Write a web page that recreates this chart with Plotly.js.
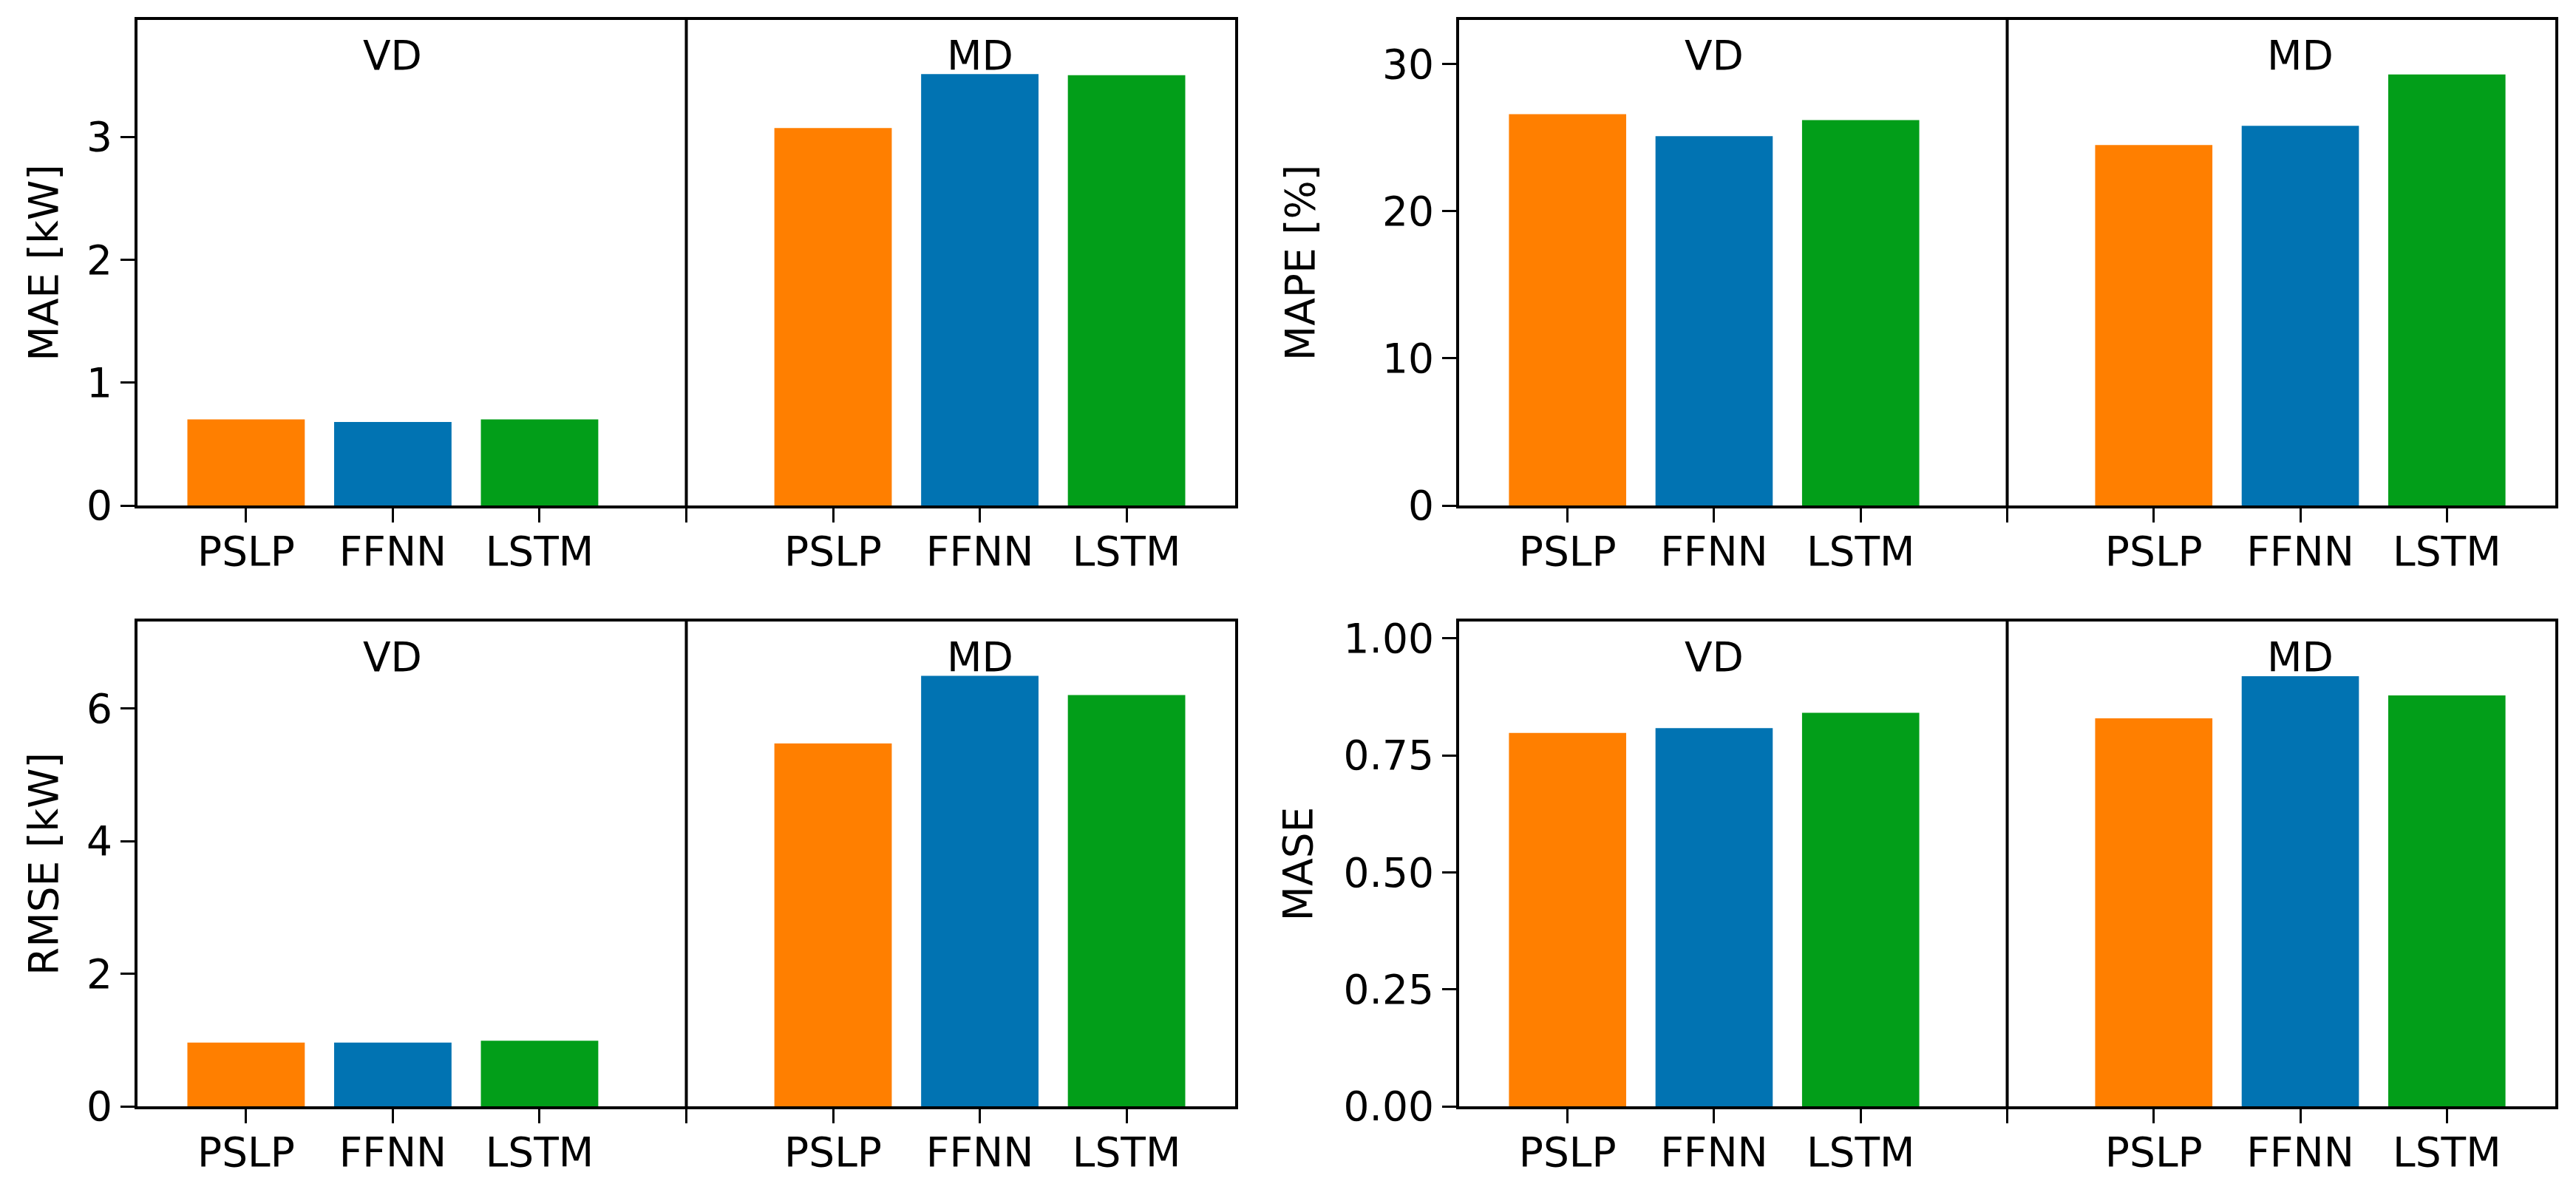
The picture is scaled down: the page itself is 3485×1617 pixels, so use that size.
<!DOCTYPE html>
<html>
<head>
<meta charset="utf-8">
<script src="https://cdn.plot.ly/plotly-3.0.1.min.js"></script>
<style>html,body{margin:0;padding:0;background:#fff;}#chart{width:3485px;height:1617px;}</style>
</head>
<body>
<div id="chart"></div>
<script>
// ---- data ----
const models = ['PSLP', 'FFNN', 'LSTM'];
const groups = ['VD', 'MD'];
const maeVD = [0.70, 0.68, 0.70];
const maeMD = [3.07, 3.51, 3.50];
const mapeVD = [26.6, 25.1, 26.2];
const mapeMD = [24.5, 25.8, 29.3];
const rmseVD = [0.96, 0.96, 0.99];
const rmseMD = [5.47, 6.49, 6.20];
const maseVD = [0.798, 0.808, 0.841];
const maseMD = [0.829, 0.919, 0.878];
const metricTitles = ['MAE [kW]', 'MAPE [%]', 'RMSE [kW]', 'MASE'];

// ---- styling ----
const modelColors = ['#ff7f00', '#0173b2', '#029e19'];
const FONT = 'DejaVu Sans, sans-serif';
const FS = 55;
const W = 3485, H = 1617;
const colDom = [[186 / W, 1671 / W], [1974 / W, 3457 / W]];
const rowDom = [[1 - 684 / H, 1 - 27 / H], [1 - 1497 / H, 1 - 841 / H]];

const panels = [
  { vd: maeVD, md: maeMD, title: metricTitles[0], range: [0, 3.95], dtick: 1, fmt: '', standoff: 22, col: 0, row: 0 },
  { vd: mapeVD, md: mapeMD, title: metricTitles[1], range: [0, 33.0], dtick: 10, fmt: '', standoff: 75, col: 1, row: 0 },
  { vd: rmseVD, md: rmseMD, title: metricTitles[2], range: [0, 7.31], dtick: 2, fmt: '', standoff: 22, col: 0, row: 1 },
  { vd: maseVD, md: maseMD, title: metricTitles[3], range: [0, 1.036], dtick: 0.25, fmt: '.2f', standoff: 25, col: 1, row: 1 }
];

const data = [];
const layout = {
  width: W, height: H,
  margin: { l: 0, r: 0, t: 0, b: 0 },
  paper_bgcolor: '#fff', plot_bgcolor: '#fff',
  showlegend: false,
  font: { family: FONT, size: FS, color: '#000' },
  shapes: [], annotations: []
};

const tickVals = [];
const tickText = [];
groups.forEach((g, gi) => {
  models.forEach((m, mi) => { tickVals.push(gi * 4 + mi); tickText.push(m); });
});
tickVals.push(3); tickText.push('');

panels.forEach((p, i) => {
  const n = i + 1;
  const xa = n === 1 ? 'x' : 'x' + n;
  const ya = n === 1 ? 'y' : 'y' + n;
  const xs = [], ys = [], cs = [];
  [p.vd, p.md].forEach((vals, gi) => {
    vals.forEach((v, mi) => { xs.push(gi * 4 + mi); ys.push(v); cs.push(modelColors[mi]); });
  });
  data.push({
    type: 'bar', x: xs, y: ys, xaxis: xa, yaxis: ya,
    width: 0.8, marker: { color: cs, line: { width: 0 } },
    hoverinfo: 'x+y'
  });
  const xKey = n === 1 ? 'xaxis' : 'xaxis' + n;
  const yKey = n === 1 ? 'yaxis' : 'yaxis' + n;
  layout[xKey] = {
    domain: colDom[p.col], anchor: ya, type: 'linear',
    range: [-0.74, 6.74], tickmode: 'array', tickvals: tickVals, ticktext: tickText,
    ticks: 'outside', ticklen: 19, tickwidth: 3, tickcolor: '#000',
    ticklabelstandoff: -8,
    showline: true, linecolor: '#000', linewidth: 4, mirror: true,
    showgrid: false, zeroline: false, fixedrange: true,
    tickfont: { family: FONT, size: FS, color: '#000' }
  };
  layout[yKey] = {
    domain: rowDom[p.row], anchor: xa,
    range: p.range, dtick: p.dtick, tick0: 0, tickformat: p.fmt,
    ticks: 'outside', ticklen: 19, tickwidth: 3, tickcolor: '#000',
    showline: true, linecolor: '#000', linewidth: 4, mirror: true,
    showgrid: false, zeroline: false, fixedrange: true,
    tickfont: { family: FONT, size: FS, color: '#000' },
    title: { text: p.title, font: { family: FONT, size: FS, color: '#000' }, standoff: p.standoff }
  };
  layout.shapes.push({
    type: 'line', xref: xa, yref: ya + ' domain', x0: 3, x1: 3, y0: 0, y1: 1,
    line: { color: '#000', width: 4 }
  });
  groups.forEach((g, gi) => {
    layout.annotations.push({
      xref: xa, yref: ya + ' domain', x: gi * 4 + 1, y: 0.927,
      text: g, showarrow: false, xanchor: 'center', yanchor: 'middle',
      font: { family: FONT, size: FS, color: '#000' }
    });
  });
});

Plotly.newPlot('chart', data, layout, { staticPlot: true, displayModeBar: false });
</script>
</body>
</html>
